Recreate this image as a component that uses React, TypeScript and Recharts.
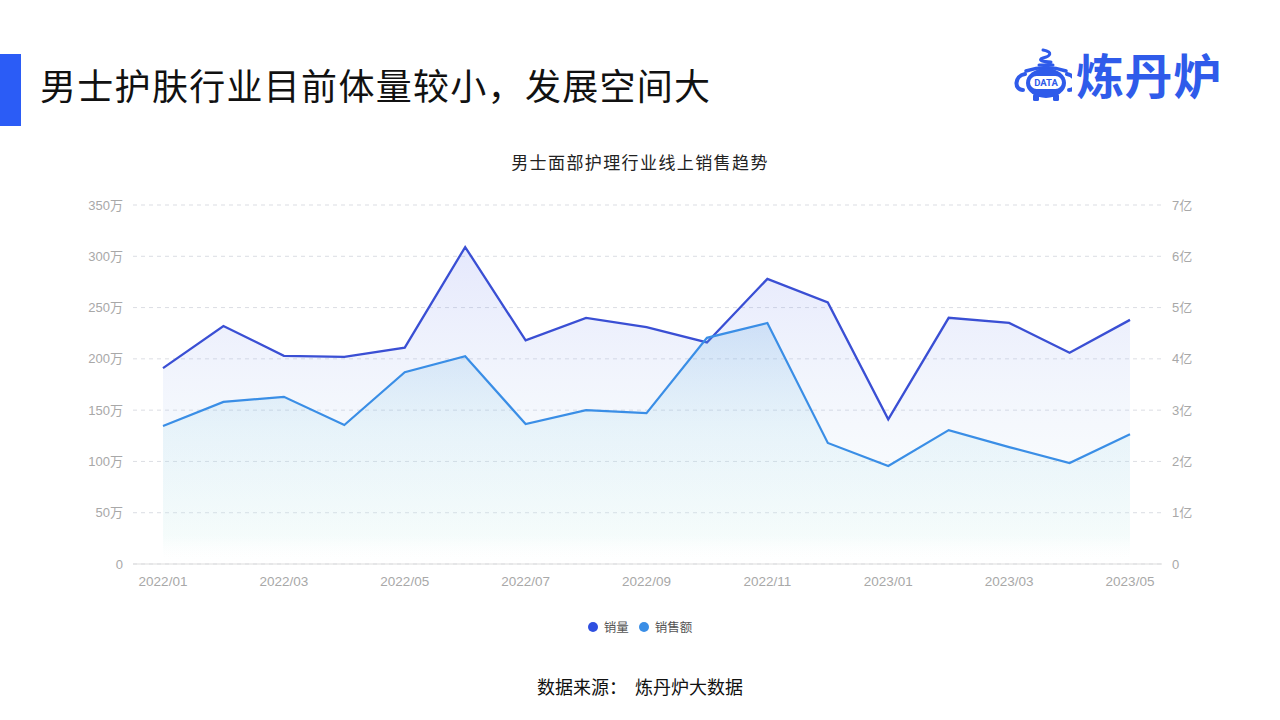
import React from 'react';
import { ComposedChart, Area, XAxis, YAxis, CartesianGrid } from 'recharts';

const months = ['2022/01','2022/02','2022/03','2022/04','2022/05','2022/06','2022/07','2022/08','2022/09','2022/10','2022/11','2022/12','2023/01','2023/02','2023/03','2023/04','2023/05'];
// 销量 (万)
const volume = [191, 232, 203, 202, 211, 309, 218, 240, 231, 216, 278, 255, 141, 240, 235, 206, 238];
// 销售额 (亿)
const sales = [2.69, 3.16, 3.26, 2.71, 3.74, 4.05, 2.73, 3.0, 2.94, 4.41, 4.7, 2.36, 1.91, 2.61, 2.28, 1.97, 2.53];
const leftTicks = [0, 50, 100, 150, 200, 250, 300, 350];
const rightTicks = [0, 1, 2, 3, 4, 5, 6, 7];

const data = months.map((m, i) => ({ month: m, volume: volume[i], sales: sales[i] }));

const FONT = '"Noto Sans CJK SC", "Noto Sans", sans-serif';
const TICK_FONT = '"Liberation Sans", "Noto Sans CJK SC", sans-serif';
const VOL_COLOR = '#3a4fd4';
const SALES_COLOR = '#3a8ee6';

const Logo = () => (
  <svg width="60" height="56" viewBox="0 0 60 56" style={{ position: 'absolute', left: 1012, top: 47 }}>
    <path d="M31 3 C41 5, 39 9, 31 11 C25 13, 31 15, 39 15 M27 18 L41 18" stroke="#2f5bea" strokeWidth="3" fill="none" strokeLinecap="round" />
    <path d="M14 24 Q34 17 54 24" stroke="#2f5bea" strokeWidth="3.5" fill="none" strokeLinecap="round" />
    <ellipse cx="34" cy="36" rx="20" ry="15" fill="#2f5bea" />
    <path d="M13 27 C2 29, 2 43, 11 43" stroke="#2f5bea" strokeWidth="4" fill="none" strokeLinecap="round" />
    <path d="M55 27 C66 29, 66 43, 57 43" stroke="#2f5bea" strokeWidth="4" fill="none" strokeLinecap="round" />
    <rect x="18" y="29" width="32" height="13" rx="6.5" fill="#fff" />
    <text x="34" y="39" textAnchor="middle" fontSize="9.5" fontWeight="700" fill="#2f5bea" fontFamily="Roboto, sans-serif">DATA</text>
    <rect x="21" y="47" width="6" height="7" rx="1.5" fill="#2f5bea" />
    <rect x="41" y="47" width="6" height="7" rx="1.5" fill="#2f5bea" />
  </svg>
);

export default function App() {
  return (
    <div style={{ position: 'absolute', left: 0, top: 0, width: 1280, height: 720, background: '#fff', fontFamily: FONT, overflow: 'hidden' }}>
      <div style={{ position: 'absolute', left: 0, top: 54, width: 21, height: 72, background: '#2b5cf6' }} />
      <div style={{ position: 'absolute', left: 40, top: 62, fontSize: 36, lineHeight: '44px', color: '#111', letterSpacing: 1.3, whiteSpace: 'nowrap' }}>
        男士护肤行业目前体量较小，发展空间大
      </div>
      <Logo />
      <div style={{ position: 'absolute', left: 1076, top: 44, fontSize: 48, lineHeight: '58px', color: '#2f5bea', fontWeight: 700, whiteSpace: 'nowrap', letterSpacing: 0.5 }}>
        炼丹炉
      </div>
      <div style={{ position: 'absolute', left: 0, width: 1280, top: 150, textAlign: 'center', fontSize: 17, lineHeight: '24px', color: '#222', letterSpacing: 1.4 }}>
        男士面部护理行业线上销售趋势
      </div>
      <div style={{ position: 'absolute', left: 0, top: 0 }}>
        <ComposedChart width={1280} height={720} data={data} margin={{ top: 205, right: 58, left: 73, bottom: 126 }}>
          <defs>
            <linearGradient id="volGrad" x1="0" y1="0" x2="0" y2="1">
              <stop offset="0%" stopColor="#6f7ff0" stopOpacity={0.3} />
              <stop offset="55%" stopColor="#a9c4ee" stopOpacity={0.2} />
              <stop offset="92%" stopColor="#e0f4f4" stopOpacity={0.18} />
              <stop offset="100%" stopColor="#ffffff" stopOpacity={0} />
            </linearGradient>
            <linearGradient id="salesGrad" x1="0" y1="0" x2="0" y2="1">
              <stop offset="0%" stopColor="#4a9ae0" stopOpacity={0.32} />
              <stop offset="45%" stopColor="#8cd0e4" stopOpacity={0.22} />
              <stop offset="88%" stopColor="#c8efe8" stopOpacity={0.22} />
              <stop offset="100%" stopColor="#ffffff" stopOpacity={0} />
            </linearGradient>
          </defs>
          <XAxis
            dataKey="month"
            interval={1}
            padding={{ left: 30, right: 32 }}
            tickLine={false}
            axisLine={{ stroke: '#dddddd' }}
            tickMargin={6}
            tick={{ fill: '#a8a8a8', fontSize: 13.5, fontFamily: TICK_FONT }}
          />
          <YAxis
            yAxisId="left"
            width={60}
            domain={[0, 350]}
            ticks={leftTicks}
            tickLine={false}
            axisLine={false}
            tickMargin={4}
            tick={{ fill: '#a8a8a8', fontSize: 13, fontFamily: TICK_FONT }}
            tickFormatter={(v: number) => (v === 0 ? '0' : `${v}万`)}
          />
          <YAxis
            yAxisId="right"
            orientation="right"
            width={60}
            domain={[0, 7]}
            ticks={rightTicks}
            tickLine={false}
            axisLine={false}
            tickMargin={4}
            tick={{ fill: '#a8a8a8', fontSize: 13, fontFamily: TICK_FONT }}
            tickFormatter={(v: number) => (v === 0 ? '0' : `${v}亿`)}
          />
          <Area
            yAxisId="left"
            type="linear"
            dataKey="volume"
            stroke={VOL_COLOR}
            strokeWidth={2.3}
            fill="url(#volGrad)"
            dot={false}
            activeDot={false}
            isAnimationActive={false}
          />
          <Area
            yAxisId="right"
            type="linear"
            dataKey="sales"
            stroke={SALES_COLOR}
            strokeWidth={2.2}
            fill="url(#salesGrad)"
            dot={false}
            activeDot={false}
            isAnimationActive={false}
          />
          <CartesianGrid yAxisId="left" vertical={false} stroke="#d2d5dc" strokeOpacity={0.8} strokeDasharray="4 4" />
        </ComposedChart>
      </div>
      <div style={{ position: 'absolute', left: 0, width: 1280, top: 618, display: 'flex', justifyContent: 'center', alignItems: 'center', fontSize: 12.5, lineHeight: '18px', color: '#555', paddingLeft: 0 }}>
        <span style={{ display: 'inline-block', width: 10, height: 10, borderRadius: 5, background: '#2f4fe0', marginRight: 6 }} />
        <span>销量</span>
        <span style={{ display: 'inline-block', width: 10, height: 10, borderRadius: 5, background: '#3a8ee6', marginLeft: 10, marginRight: 6 }} />
        <span>销售额</span>
      </div>
      <div style={{ position: 'absolute', left: 0, width: 1280, top: 673, textAlign: 'center', fontSize: 18, lineHeight: '26px', color: '#111', whiteSpace: 'pre' }}>
        数据来源：  炼丹炉大数据
      </div>
    </div>
  );
}
